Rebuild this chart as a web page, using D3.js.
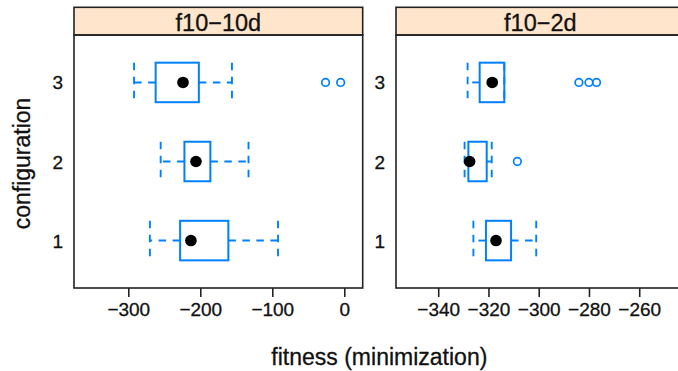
<!DOCTYPE html>
<html>
<head>
  <meta charset="utf-8">
  <script src="https://d3js.org/d3.v7.min.js"></script>
  <style type="text/css">
body { margin: 0; background: #fff; }
svg { display: block; font-family: "Liberation Sans", Arial, sans-serif; }
svg text { fill: #111; stroke: #111; stroke-width: 0.3px; }
.tick text { font-size: 19px; }
  </style>
</head>
<body>
<script type="text/javascript">
// categories and panels
var configs = ["1", "2", "3"];
var panelNames = ["f10\u221210d", "f10\u22122d"];

// box stats per config: [low whisker, q1, median, q3, high whisker]
var stats10d = [
  [-270, -228, -213, -161, -92],
  [-255, -222, -206, -186, -133],
  [-292, -262, -224, -202, -156]
];
var outliers10d = [[], [], [-26, -5]];

var stats2d = [
  [-326, -321, -317, -311, -301],
  [-329.5, -328, -327.5, -320.7, -318.7],
  [-328.3, -323.5, -318.5, -313.7, -313.7]
];
var outliers2d = [[], [-308.5], [-284, -280, -277]];

// axis limits and ticks
var xlim10d = [-375.4, 25.6];
var ticks10d = [-300, -200, -100, 0];
var xlim2d = [-356.8, -241.9];
var ticks2d = [-340, -320, -300, -280, -260];

var panels = [
  {name: panelNames[0], stats: stats10d, out: outliers10d, xlim: xlim10d, ticks: ticks10d},
  {name: panelNames[1], stats: stats2d, out: outliers2d, xlim: xlim2d, ticks: ticks2d}
];

var W = 678, H = 371;
var panelW = 288.7, panelLefts = [74, 396];
var stripTop = 7.3, panelTop = 35, panelBottom = 288;
var blue = "#0080ff";
var dash = "7.5,6.5";

var svg = d3.select("body").append("svg")
  .attr("width", W)
  .attr("height", H);

var y = d3.scaleLinear()
  .domain([0.4, 3.6])
  .range([panelBottom, panelTop]);
var boxH = y(0) - y(0.5);

panels.forEach(function(p, pi) {
  var left = panelLefts[pi];
  var x = d3.scaleLinear().domain(p.xlim).range([left, left + panelW]);
  var g = svg.append("g");

  // strip
  g.append("rect")
    .attr("x", left).attr("y", stripTop)
    .attr("width", panelW).attr("height", panelTop - stripTop)
    .attr("fill", "#ffe5cc")
    .attr("stroke", "#222").attr("stroke-width", 1.6);
  g.append("text")
    .attr("x", left + panelW / 2).attr("y", 30.5)
    .attr("text-anchor", "middle")
    .style("font-size", "23.5px")
    .text(p.name);

  // panel box
  g.append("rect")
    .attr("x", left).attr("y", panelTop)
    .attr("width", panelW).attr("height", panelBottom - panelTop)
    .attr("fill", "none")
    .attr("stroke", "#222").attr("stroke-width", 1.6);

  // x axis
  var xAxis = d3.axisBottom(x)
    .tickValues(p.ticks)
    .tickSize(9)
    .tickPadding(6);
  var ax = g.append("g")
    .attr("transform", "translate(0," + panelBottom + ")")
    .call(xAxis);
  ax.select(".domain").remove();
  ax.selectAll(".tick line").attr("stroke", "#222").attr("stroke-width", 1.6);

  // y labels (no ticks)
  g.selectAll(".ylab")
    .data(configs)
    .enter().append("text")
    .attr("class", "ylab")
    .attr("x", left - 11)
    .attr("y", function(d) { return y(+d) + 7; })
    .attr("text-anchor", "end")
    .style("font-size", "19px")
    .text(function(d) { return d; });

  // boxes
  configs.forEach(function(c, ci) {
    var s = p.stats[ci];
    var cy = y(+c);
    var bg = g.append("g");

    // whiskers from box edges outward
    bg.append("line")
      .attr("x1", x(s[1])).attr("x2", x(s[0]))
      .attr("y1", cy).attr("y2", cy)
      .attr("stroke", blue).attr("stroke-width", 1.9)
      .attr("stroke-dasharray", dash);
    bg.append("line")
      .attr("x1", x(s[3])).attr("x2", x(s[4]))
      .attr("y1", cy).attr("y2", cy)
      .attr("stroke", blue).attr("stroke-width", 1.9)
      .attr("stroke-dasharray", dash);
    [s[0], s[4]].forEach(function(v) {
      bg.append("line")
        .attr("x1", x(v)).attr("x2", x(v))
        .attr("y1", cy - boxH / 2).attr("y2", cy + boxH / 2)
        .attr("stroke", blue).attr("stroke-width", 1.9)
        .attr("stroke-dasharray", dash);
    });

    bg.append("rect")
      .attr("x", x(s[1])).attr("y", cy - boxH / 2)
      .attr("width", x(s[3]) - x(s[1])).attr("height", boxH)
      .attr("fill", "none")
      .attr("stroke", blue).attr("stroke-width", 2);

    bg.selectAll(".out")
      .data(p.out[ci])
      .enter().append("circle")
      .attr("cx", function(d) { return x(d); })
      .attr("cy", cy)
      .attr("r", 3.8)
      .attr("fill", "none")
      .attr("stroke", blue).attr("stroke-width", 1.7);

    bg.append("circle")
      .attr("cx", x(s[2])).attr("cy", cy)
      .attr("r", 5.8)
      .attr("fill", "#000");
  });
});

// axis titles
svg.append("text")
  .attr("x", (panelLefts[0] + panelLefts[1] + panelW) / 2)
  .attr("y", 365)
  .attr("text-anchor", "middle")
  .style("font-size", "23px")
  .text("fitness (minimization)");

svg.append("text")
  .attr("transform", "translate(30," + ((panelTop + panelBottom) / 2 + 2) + ") rotate(-90)")
  .attr("text-anchor", "middle")
  .style("font-size", "23px")
  .text("configuration");
</script>
</body>
</html>
